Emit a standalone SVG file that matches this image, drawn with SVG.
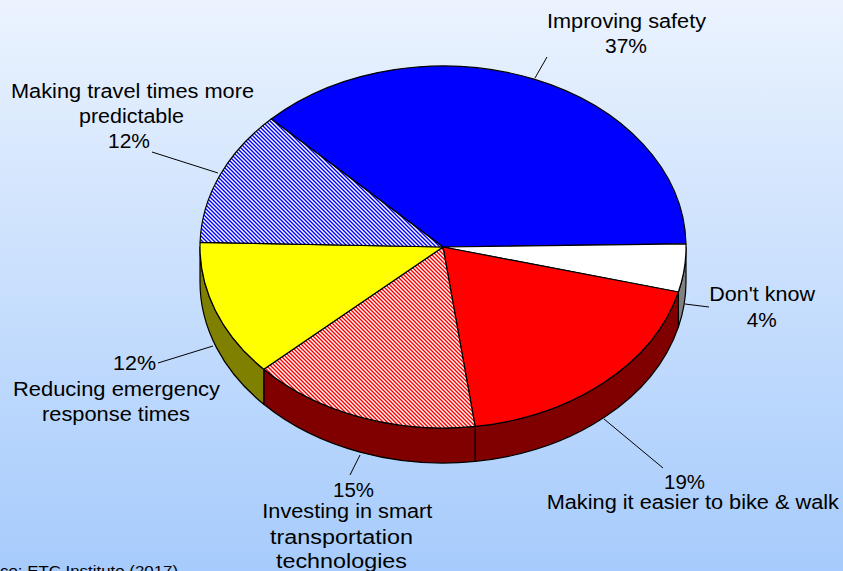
<svg xmlns="http://www.w3.org/2000/svg" width="843" height="571" viewBox="0 0 843 571">
<defs>
<linearGradient id="bg" x1="0" y1="0" x2="0" y2="1">
<stop offset="0" stop-color="#EBF3FE"/>
<stop offset="1" stop-color="#A6CBFC"/>
</linearGradient>
<pattern id="hatchBlue" width="4" height="4" patternUnits="userSpaceOnUse">
<rect width="4" height="4" fill="#FFFFFF"/>
<polygon points="0,0 2,0 4,2 4,4" fill="#0000FF"/>
<polygon points="0,2 2,4 0,4" fill="#0000FF"/>
</pattern>
<pattern id="hatchRed" width="4" height="4" patternUnits="userSpaceOnUse">
<rect width="4" height="4" fill="#FFFFFF"/>
<polygon points="0,0 2,0 4,2 4,4" fill="#FF0000"/>
<polygon points="0,2 2,4 0,4" fill="#FF0000"/>
</pattern>
</defs>
<style>
.s{stroke:#000;stroke-width:1.2;stroke-linejoin:round}
.t{font-family:"Liberation Sans",Arial,sans-serif;font-size:20px;fill:#000}
.src{font-family:"Liberation Sans",Arial,sans-serif;font-size:15px;fill:#000}
.l{stroke:#000;stroke-width:1;fill:none}
</style>
<rect width="843" height="571" fill="url(#bg)"/>

<g id="slice-improving-safety">
<path class="s" fill="#0000FF" d="M443,247 L271.2,119 A243,181 0 0 1 686,243.8 Z"/>
</g>
<g id="slice-dont-know">
<path class="s" fill="#808080" d="M686,247 A243,181 0 0 1 678.4,292 L678.4,327 A243,181 0 0 0 686,282 Z"/>
<path class="s" fill="#FFFFFF" d="M443,247 L686,243.8 A243,181 0 0 1 678.4,292 Z"/>
</g>
<g id="slice-bike-walk">
<path class="s" fill="#800000" d="M678.4,292 A243,181 0 0 1 475.1,426.4 L475.1,461.4 A243,181 0 0 0 678.4,327 Z"/>
<path class="s" fill="#FF0000" d="M443,247 L678.4,292 A243,181 0 0 1 475.1,426.4 Z"/>
</g>
<g id="slice-smart-tech">
<path class="s" fill="#800000" d="M475.1,426.4 A243,181 0 0 1 263.8,369.3 L263.8,404.3 A243,181 0 0 0 475.1,461.4 Z"/>
<path class="s" fill="url(#hatchRed)" d="M443,247 L475.1,426.4 A243,181 0 0 1 263.8,369.3 Z"/>
</g>
<g id="slice-emergency">
<path class="s" fill="#808000" d="M263.8,369.3 A243,181 0 0 1 200,247 L200,282 A243,181 0 0 0 263.8,404.3 Z"/>
<path class="s" fill="#FFFF00" d="M443,247 L263.8,369.3 A243,181 0 0 1 200.1,242.3 Z"/>
</g>
<g id="slice-travel-times">
<path class="s" fill="url(#hatchBlue)" d="M443,247 L200.1,242.3 A243,181 0 0 1 271.2,119 Z"/>
</g>

<g id="connectors">
<line class="l" x1="535" y1="78" x2="547" y2="57"/>
<line class="l" x1="152" y1="152" x2="218" y2="173"/>
<line class="l" x1="685" y1="304" x2="709" y2="307"/>
<line class="l" x1="604" y1="419" x2="663" y2="468"/>
<line class="l" x1="360" y1="455" x2="350" y2="475"/>
<line class="l" x1="213" y1="346" x2="158" y2="363"/>
</g>

<g id="labels">
<text class="t" x="547" y="27.5" textLength="159" lengthAdjust="spacingAndGlyphs">Improving safety</text>
<text class="t" x="605" y="53" textLength="42" lengthAdjust="spacingAndGlyphs">37%</text>
<text class="t" x="11" y="97.7" textLength="243" lengthAdjust="spacingAndGlyphs">Making travel times more</text>
<text class="t" x="79" y="123" textLength="105" lengthAdjust="spacingAndGlyphs">predictable</text>
<text class="t" x="108" y="147.5" textLength="42" lengthAdjust="spacingAndGlyphs">12%</text>
<text class="t" x="709.3" y="301" textLength="105.7" lengthAdjust="spacingAndGlyphs">Don't know</text>
<text class="t" x="746.7" y="326.7" textLength="30" lengthAdjust="spacingAndGlyphs">4%</text>
<text class="t" x="664" y="489.3" textLength="41" lengthAdjust="spacingAndGlyphs">19%</text>
<text class="t" x="546.7" y="509.3" textLength="292.3" lengthAdjust="spacingAndGlyphs">Making it easier to bike &amp; walk</text>
<text class="t" x="113" y="370" textLength="43" lengthAdjust="spacingAndGlyphs">12%</text>
<text class="t" x="13" y="396" textLength="207" lengthAdjust="spacingAndGlyphs">Reducing emergency</text>
<text class="t" x="42" y="421" textLength="148" lengthAdjust="spacingAndGlyphs">response times</text>
<text class="t" x="333" y="497" textLength="41" lengthAdjust="spacingAndGlyphs">15%</text>
<text class="t" x="262.3" y="518.3" textLength="170" lengthAdjust="spacingAndGlyphs">Investing in smart</text>
<text class="t" x="270" y="544" textLength="143" lengthAdjust="spacingAndGlyphs">transportation</text>
<text class="t" x="276" y="568" textLength="131" lengthAdjust="spacingAndGlyphs">technologies</text>
<text class="src" x="0" y="576" textLength="178" lengthAdjust="spacingAndGlyphs">ce:  ETC Institute (2017)</text>
</g>
</svg>
